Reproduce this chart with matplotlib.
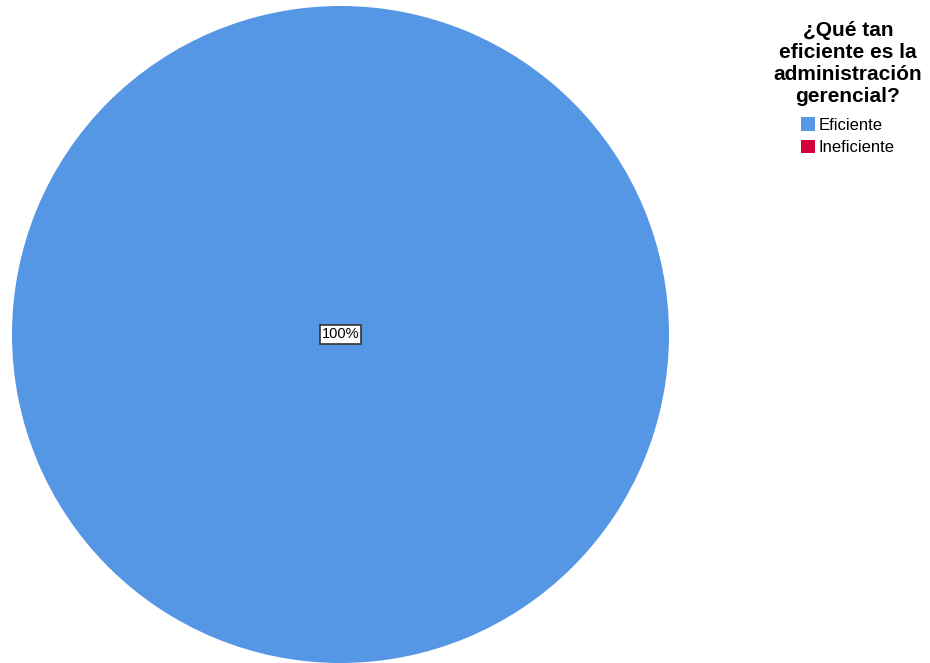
import matplotlib.pyplot as plt

plt.rcParams['font.family'] = ['Liberation Sans', 'DejaVu Sans']

categories = ['Eficiente', 'Ineficiente']
values = [100, 0]
colors = ['#5596e5', '#d5003a']
legend_title = '¿Qué tan\neficiente es la\nadministración\ngerencial?'


def pct_label(p):
    return '%.0f%%' % p if p > 0 else ''


def main():
    fig = plt.figure(figsize=(9.3, 6.63), dpi=100)
    ax = fig.add_axes([12 / 930, 0, 657 / 930, 657 / 663])

    wedges, texts, autotexts = ax.pie(
        values, colors=colors, startangle=90, counterclock=False,
        autopct=pct_label, pctdistance=0.0,
        wedgeprops=dict(linewidth=0),
        textprops=dict(fontsize=10.5, color='black'))
    for t in autotexts:
        if t.get_text():
            t.set_bbox(dict(boxstyle='square,pad=0.15', facecolor='white',
                            edgecolor='#333333', linewidth=1.2))
    ax.set_aspect('equal')
    ax.set_xlim(-1, 1)
    ax.set_ylim(-1, 1)

    leg = fig.legend(wedges, categories, title=legend_title,
                     loc='upper center', bbox_to_anchor=(848 / 930, 1 - 13 / 663),
                     frameon=False, fontsize=12, handlelength=0.85,
                     handleheight=0.85, handletextpad=0.2, labelspacing=0.4,
                     borderpad=0, title_fontproperties=dict(size=15, weight='bold'))
    title = leg.get_title()
    title.set_linespacing(1.2)
    title.set_multialignment('center')
    # extra gap between the title block and the entries
    leg._legend_box.sep = 8

    fig.savefig('out.png', dpi=100, facecolor='white')


if __name__ == "__main__":
    main()
